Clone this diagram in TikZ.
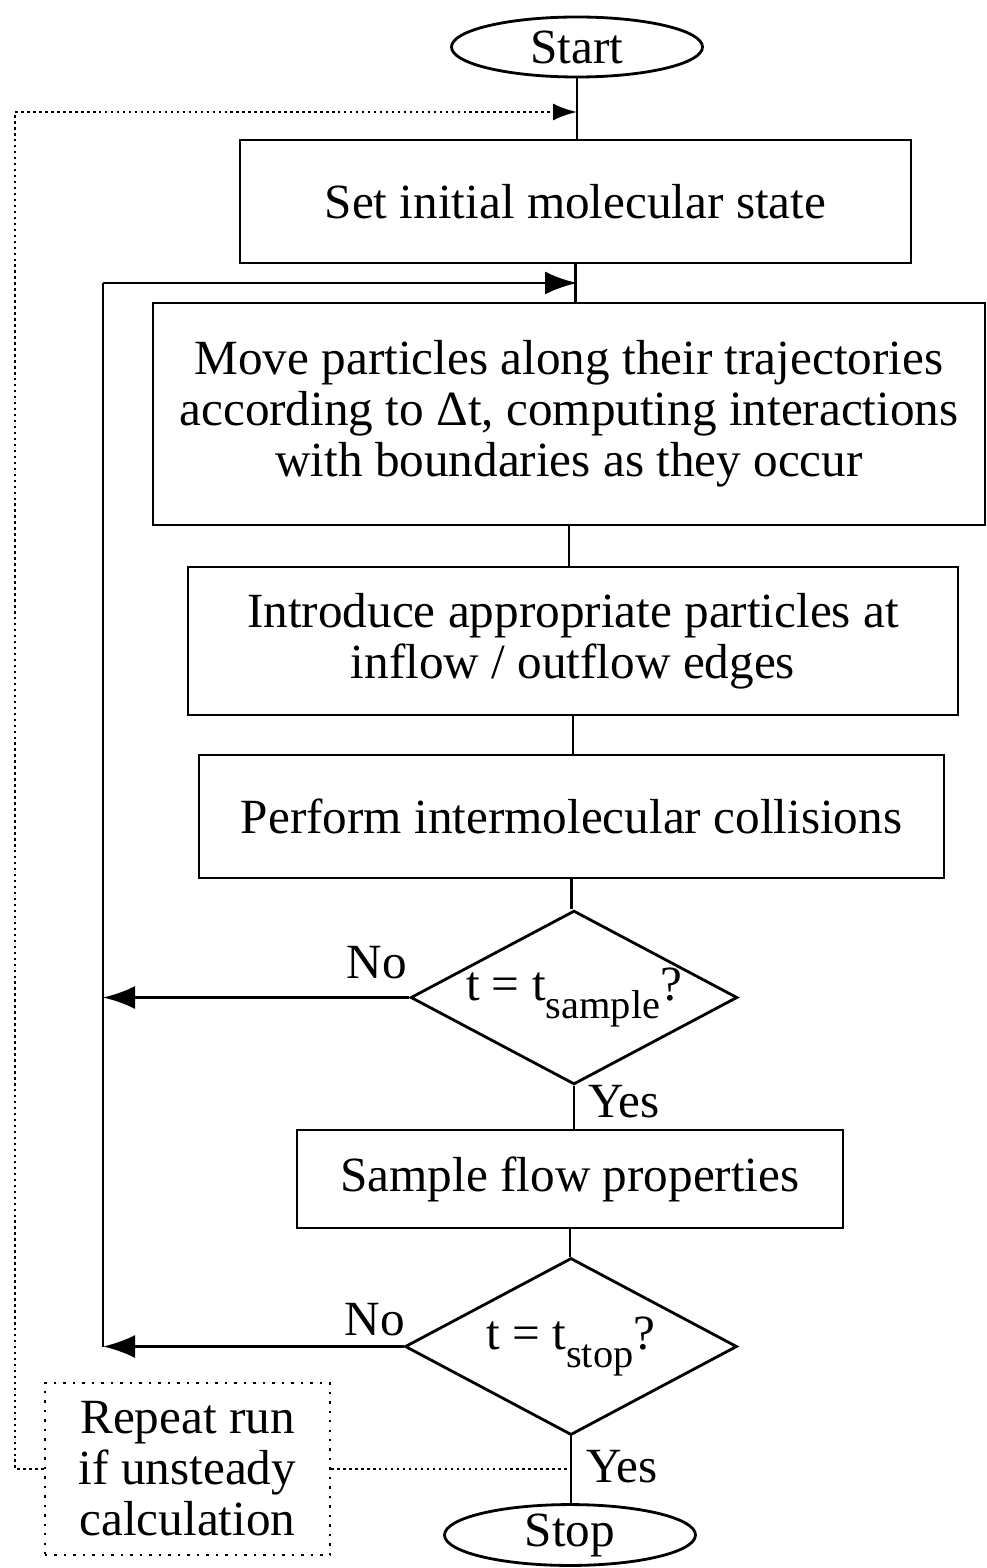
\documentclass[tikz,border=0pt]{standalone}
\usepackage{fontspec}
\setmainfont{Liberation Serif}
\usetikzlibrary{shapes.geometric,arrows.meta}

% lowered subscript in text size
\newcommand\lowsub[1]{\raisebox{-0.36em}{\fontsize{11.5}{12}\selectfont #1}}

\tikzset{
  proc/.style={draw,line width=0.8pt,inner sep=0pt,align=center},
  term/.style={draw,ellipse,line width=0.8pt,inner sep=0pt,minimum width=2.51cm,minimum height=0.6cm},
  decide/.style={draw,diamond,line width=0.8pt,inner sep=0pt,aspect=1.88,minimum width=3.22cm,minimum height=1.71cm},
  note/.style={draw,dotted,line width=0.7pt,inner sep=0pt,align=center,minimum width=2.85cm,minimum height=1.72cm},
  flow/.style={line width=0.8pt},
  loop/.style={densely dotted,line width=0.7pt},
  tip/.style={-{Latex[length=3.2mm,width=2.3mm]}},
  smalltip/.style={-{Latex[length=2.4mm,width=1.7mm]}},
}

\begin{document}
\begin{tikzpicture}[font=\fontsize{14}{14.5}\selectfont]
        \useasboundingbox (0,0) rectangle (9.86,-15.68);
        % terminals
        \node[term] (start) at (5.77,-0.47) {Start};
        \node[term] (stop) at (5.70,-15.35) {Stop};
        % process boxes
        \node[proc,minimum width=6.71cm,minimum height=1.23cm] (init) at (5.755,-2.015) {Set initial molecular state};
        \node[proc,minimum width=8.32cm,minimum height=2.22cm] (move) at (5.69,-4.14)
            {Move particles along their trajectories\\according to Δt, computing interactions\\with boundaries as they occur};
        \node[proc,minimum width=7.70cm,minimum height=1.48cm] (intro) at (5.73,-6.41)
            {Introduce appropriate particles at\\inflow / outflow edges};
        \node[proc,minimum width=7.45cm,minimum height=1.23cm] (coll) at (5.715,-8.165) {Perform intermolecular collisions};
        \node[proc,minimum width=5.46cm,minimum height=0.98cm] (samp) at (5.70,-11.79) {Sample flow properties};
        % decisions
        \node[decide] (tsamp) at (5.74,-9.975) {t = t\lowsub{sample}?};
        \node[decide,minimum width=3.32cm,minimum height=1.77cm] (tstop) at (5.71,-13.465) {t = t\lowsub{stop}?};
        % note
        \node[note] (rep) at (1.875,-14.69) {Repeat run\\if unsteady\\calculation};
        % labels
        \node (no1) at (3.77,-9.63) {No};
        \node (yes1) at (6.24,-11.02) {Yes};
        \node (no2) at (3.75,-13.20) {No};
        \node (yes2) at (6.22,-14.67) {Yes};
        % main line
        \draw[flow] (start.south) -- (start.south |- init.north);
        \draw[flow] (init.south) -- (init.south |- move.north);
        \draw[flow] (move.south) -- (move.south |- intro.north);
        \draw[flow] (intro.south) -- (intro.south |- coll.north);
        \draw[flow] (coll.south) -- (coll.south |- tsamp.north);
        \draw[flow] (tsamp.south) -- (tsamp.south |- samp.north);
        \draw[flow] (samp.south) -- (samp.south |- tstop.north);
        \draw[flow] (tstop.south) -- (tstop.south |- stop.north);
        % time step loop
        \coordinate (fb) at (1.03,-2.83);
        \draw[flow] (fb) -- (fb |- tstop.west);
        \draw[flow,tip] (fb) -- (fb -| start.south);
        \draw[flow,tip] (tsamp.west) -- (tsamp.west -| fb);
        \draw[flow,tip] (tstop.west) -- (tstop.west -| fb);
        % repeat loop
        \coordinate (back) at (0.15,-1.12);
        \draw[loop] (rep.east) -- (rep.east -| tstop.south);
        \draw[loop,smalltip] (rep.west) -- (rep.west -| back) -- (back) -- (back -| start.south);
\end{tikzpicture}
\end{document}
